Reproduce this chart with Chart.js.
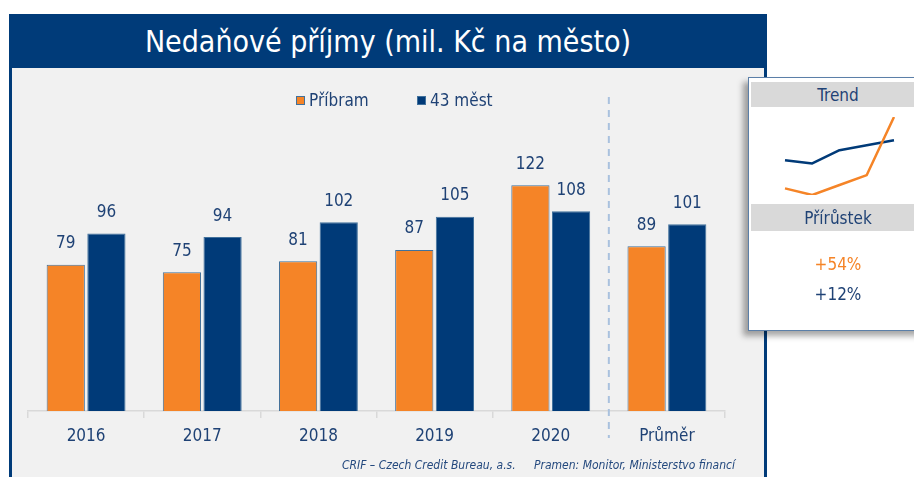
<!DOCTYPE html>
<html>
<head>
<meta charset="utf-8">
<script src="https://cdn.jsdelivr.net/npm/chart.js@4.4.1/dist/chart.umd.min.js"></script>
<style>
    body { margin: 0; width: 914px; height: 477px; background: #ffffff; position: relative; overflow: hidden;
           font-family: 'DejaVu Sans Condensed', 'DejaVu Sans', sans-serif; color: #1f4275; }
    #frame { position: absolute; left: 9px; top: 14px; width: 752px; height: 480px; background: #f1f1f1;
             border-left: 3px solid #003b79; border-right: 3px solid #003b79; }
    #header { position: absolute; left: 9px; top: 14px; width: 758px; height: 54px; background: #003b79;
              color: #ffffff; font-size: 30px; line-height: 56px; text-align: center; }
    #main { position: absolute; left: 0; top: 0; }
    .legend { position: absolute; top: 90px; font-size: 17px; line-height: 20px; white-space: nowrap; }
    .legend i { display: inline-block; width: 7px; height: 7px; border: 1px solid #41719c; margin-right: 4px; vertical-align: 1px; }
    .foot { position: absolute; top: 458px; font-size: 12px; font-style: italic; white-space: nowrap; color: #24497e; }
    #trend { position: absolute; left: 748px; top: 77px; width: 180px; height: 252px; background: #ffffff;
             border: 1px solid #5b7fa8; box-shadow: -5px 5px 6px rgba(0, 0, 0, 0.35); }
    .band { position: absolute; left: 751px; width: 170px; background: #d9d9d9; font-size: 17px; text-align: left; }
    .band span { position: absolute; left: 0; width: 174px; text-align: center; }
    .pct { position: absolute; left: 790px; width: 96px; text-align: center; font-size: 17px; }
    #spark { position: absolute; left: 775px; top: 110px; }
</style>
</head>
<body>
<div id="frame"></div>
<div id="header">Nedaňové příjmy (mil. Kč na město)</div>
<canvas id="main" width="770" height="477"></canvas>
<div class="legend" style="left:296px"><i style="background:#f58427"></i>Příbram</div>
<div class="legend" style="left:417px"><i style="background:#003a78"></i>43 měst</div>
<div class="foot" style="left:342px">CRIF – Czech Credit Bureau, a.s.</div>
<div class="foot" style="left:534px">Pramen: Monitor, Ministerstvo financí</div>
<div id="trend"></div>
<div class="band" style="top:82px; height:25px; line-height:26px"><span>Trend</span></div>
<div class="band" style="top:204px; height:27px; line-height:28px"><span>Přírůstek</span></div>
<canvas id="spark" width="130" height="95"></canvas>
<div class="pct" style="top:254px; color:#f58427">+54%</div>
<div class="pct" style="top:284px; color:#1f4275">+12%</div>
<script>
// Data
const categories = ['2016', '2017', '2018', '2019', '2020', 'Průměr'];
const pribram = [79, 75, 81, 87, 122, 89];
const mest43 = [96, 94, 102, 105, 108, 101];
const trendYears = ['2016', '2017', '2018', '2019', '2020'];
const trendPribram = [79, 75, 81, 87, 122];
const trendMest = [96, 94, 102, 105, 108];

const ORANGE = '#f58427';
const BLUE = '#003a78';
const TEXT = '#1f4275';
const FONT = "'DejaVu Sans Condensed', 'DejaVu Sans', sans-serif";

// value labels above bars
const valueLabels = {
    id: 'valueLabels',
    afterDatasetsDraw(chart) {
        const ctx = chart.ctx;
        ctx.save();
        ctx.fillStyle = TEXT;
        ctx.font = '17px ' + FONT;
        ctx.textAlign = 'center';
        ctx.textBaseline = 'middle';
        chart.data.datasets.forEach((ds, i) => {
            chart.getDatasetMeta(i).data.forEach((bar, j) => {
                ctx.fillText(ds.data[j], bar.x, bar.y - 21);
            });
        });
        ctx.restore();
    }
};

// dashed separator before the average group
const separator = {
    id: 'separator',
    beforeDatasetsDraw(chart) {
        const x = chart.scales.x;
        const px = (x.getPixelForTick(4) + x.getPixelForTick(5)) / 2;
        const ctx = chart.ctx;
        ctx.save();
        ctx.strokeStyle = '#a9c1de';
        ctx.lineWidth = 2;
        ctx.setLineDash([7, 6]);
        ctx.beginPath();
        ctx.moveTo(px, 97);
        ctx.lineTo(px, 438);
        ctx.stroke();
        ctx.restore();
    }
};

new Chart(document.getElementById('main'), {
    type: 'bar',
    data: {
        labels: categories,
        datasets: [
            { label: 'Příbram', data: pribram, backgroundColor: ORANGE, borderColor: '#41719c', borderWidth: 1,
              categoryPercentage: 0.7, barPercentage: 0.94 },
            { label: '43 měst', data: mest43, backgroundColor: BLUE, borderColor: '#41719c', borderWidth: 1,
              categoryPercentage: 0.7, barPercentage: 0.94 }
        ]
    },
    options: {
        responsive: false,
        animation: false,
        layout: { padding: { left: 28, right: 45, top: 115, bottom: 0 } },
        plugins: { legend: { display: false }, tooltip: { enabled: false } },
        scales: {
            x: {
                afterFit(scale) { scale.height = 66; },
                grid: {
                    drawOnChartArea: false,
                    tickLength: 7,
                    color: (c) => c.index === 5 ? 'rgba(0,0,0,0)' : '#d9d9d9',
                    lineWidth: 1.5
                },
                border: { color: '#d9d9d9', width: 1.5 },
                ticks: { color: TEXT, font: { family: FONT, size: 17 }, padding: 8 }
            },
            y: { display: false, min: 0, max: 160 }
        }
    },
    plugins: [separator, valueLabels]
});

new Chart(document.getElementById('spark'), {
    type: 'line',
    data: {
        labels: trendYears,
        datasets: [
            { data: trendPribram, borderColor: ORANGE, borderWidth: 2.5, pointRadius: 0, tension: 0 },
            { data: trendMest, borderColor: BLUE, borderWidth: 2.5, pointRadius: 0, tension: 0 }
        ]
    },
    options: {
        responsive: false,
        animation: false,
        layout: { padding: { left: 10, right: 11, top: 7, bottom: 10 } },
        plugins: { legend: { display: false }, tooltip: { enabled: false } },
        scales: {
            x: { display: false },
            y: { display: false, min: 75, max: 122 }
        },
        elements: { line: { borderCapStyle: 'butt', borderJoinStyle: 'round' } }
    }
});
</script>
</body>
</html>
